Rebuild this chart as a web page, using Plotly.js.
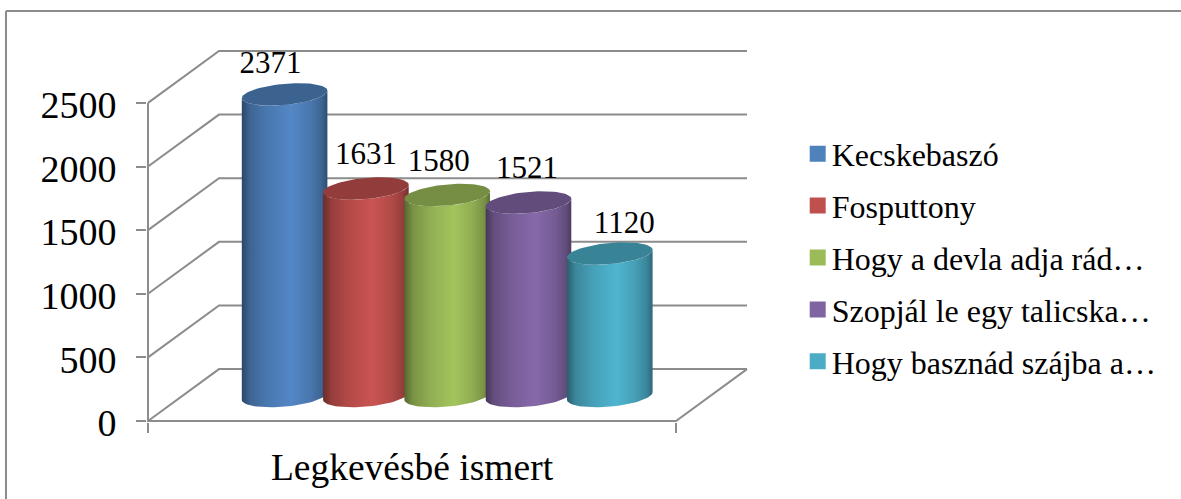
<!DOCTYPE html>
<html>
<head>
<meta charset="utf-8">
<script src="https://cdn.plot.ly/plotly-3.0.1.min.js"></script>
<style>html,body{margin:0;padding:0;background:#fff}</style>
</head>
<body>
<div id="chart" style="width:1181px;height:499px"></div>
<script>
// Survey result: least known expressions, shown as a single category of cylinders.
const categories = ['Legkevésbé ismert'];
const seriesNames = ['Kecskebaszó', 'Fosputtony', 'Hogy a devla adja rád…', 'Szopjál le egy talicska…', 'Hogy basznád szájba a…'];
const seriesValues = [2371, 1631, 1580, 1521, 1120];
const seriesColors = ['#4F81BD', '#C0504D', '#9BBB59', '#8064A2', '#4BACC6'];
const yTicks = [0, 500, 1000, 1500, 2000, 2500];
const yMax = 2500;

// Front face of the box in pixels; the plot area also holds the receding depth.
const W = 1181, H = 499;
const front = {l: 148, r: 676, t: 102.5, b: 421};
const depthPxX = 71, depthPxY = 52;
const pxX = 1 / (front.r - front.l);       // axis units per pixel (front spans 1 unit)
const pxY = yMax / (front.b - front.t);    // axis units per pixel
const box = {l: front.l - 1, r: front.r + depthPxX + 1, t: front.t - depthPxY - 2, b: front.b + 1};
const xRange = [-0.5 - (front.l - box.l) * pxX, 0.5 + (box.r - front.r) * pxX];
const yRange = [-(box.b - front.b) * pxY, yMax + (front.t - box.t) * pxY];

const depthX = depthPxX * pxX, depthY = depthPxY * pxY;
const midX = 35.2 * pxX;
const baseY = 25 * pxY;                    // cylinder floor height at mid depth
const slot = 81.3 * pxX;
const radius = 42.8 * pxX;
const capRy = 10.6 * pxY, capShear = 3.75 * pxY;
const lineGrey = '#8c8c8c';
const serif = '"Liberation Serif", "Times New Roman", serif';

// Value label displacement from the top of each cylinder, in pixels.
const labelShiftX = [-14, 0, -8.5, -1.5, 14.5];
const labelShiftY = [29, 32, 32, 32, 28];

function shade(hex, k) {
  const n = parseInt(hex.slice(1), 16);
  const c = [n >> 16, (n >> 8) & 255, n & 255].map(v => Math.min(255, Math.round(v * k)));
  return `rgb(${c[0]},${c[1]},${c[2]})`;
}
function ellipsePoint(cx, cy, t) {
  return [cx + radius * Math.cos(t), cy + capShear * Math.cos(t) + capRy * Math.sin(t)];
}
function arc(cx, cy, from, to, n) {
  const pts = [];
  for (let i = 0; i <= n; i++) pts.push(ellipsePoint(cx, cy, from + (to - from) * i / n));
  return pts;
}
const centerOf = i => midX + (i - (seriesValues.length - 1) / 2) * slot;

const traces = [];

// Wall and floor rules on the oblique box, plus the two front axis lines.
const wallX = [], wallY = [];
yTicks.forEach(v => {
  wallX.push(-0.5, -0.5 + depthX, 0.5 + depthX, null);
  wallY.push(v, v + depthY, v + depthY, null);
});
wallX.push(0.5 + depthX, 0.5, -0.5, -0.5);
wallY.push(depthY, 0, 0, yMax);
traces.push({x: wallX, y: wallY, mode: 'lines', line: {color: lineGrey, width: 2},
  showlegend: false, hoverinfo: 'skip'});

// Cylinders, painted left to right so that each overlaps the previous one.
seriesValues.forEach((v, i) => {
  const c = seriesColors[i], cx = centerOf(i), top = baseY + v;
  const upper = arc(cx, top, Math.PI, 2 * Math.PI, 40);
  const lower = arc(cx, baseY, 2 * Math.PI, Math.PI, 40);
  const outline = upper.concat(lower);
  traces.push({
    x: outline.map(p => p[0]), y: outline.map(p => p[1]),
    mode: 'lines', fill: 'toself', line: {width: 0},
    fillgradient: {type: 'horizontal', start: cx - radius, stop: cx + radius, colorscale: [
      [0, shade(c, 0.55)], [0.1, shade(c, 0.78)], [0.3, shade(c, 0.93)], [0.58, shade(c, 1.05)],
      [0.8, shade(c, 0.92)], [0.93, shade(c, 0.78)], [1, shade(c, 0.6)]]},
    showlegend: false, hoverinfo: 'skip'
  });
  const cap = arc(cx, top, 0, 2 * Math.PI, 80);
  traces.push({
    x: cap.map(p => p[0]), y: cap.map(p => p[1]),
    mode: 'lines', fill: 'toself', line: {width: 0}, fillcolor: shade(c, 0.76),
    showlegend: false, hoverinfo: 'skip'
  });
});

// Value labels.
traces.push({
  x: seriesValues.map((v, i) => centerOf(i) + labelShiftX[i] * pxX),
  y: seriesValues.map((v, i) => baseY + v + labelShiftY[i] * pxY),
  text: seriesValues.map(String), mode: 'text', textposition: 'middle center',
  textfont: {family: serif, size: 31, color: '#000'},
  cliponaxis: false, showlegend: false, hoverinfo: 'skip'
});

// Legend entries with square swatches.
seriesNames.forEach((name, i) => {
  traces.push({
    x: [null], y: [null], name, legendgroup: 'g' + i, mode: 'markers',
    marker: {symbol: 'square', size: 16, color: seriesColors[i]}
  });
});

const paperX = px => (px - box.l) / (box.r - box.l);
const paperY = px => (box.b - px) / (box.b - box.t);

const layout = {
  width: W, height: H,
  margin: {l: box.l, r: W - box.r, t: box.t, b: H - box.b, pad: 0, autoexpand: false},
  paper_bgcolor: '#fff', plot_bgcolor: 'rgba(0,0,0,0)',
  font: {family: serif, color: '#000'},
  showlegend: true,
  legend: {
    x: paperX(791.7), y: paperY(126), xanchor: 'left', yanchor: 'top',
    traceorder: 'grouped', tracegroupgap: 7.3,
    font: {family: serif, size: 32, color: '#000'}, bgcolor: 'rgba(0,0,0,0)'
  },
  xaxis: {
    type: 'linear', range: xRange, fixedrange: true,
    showgrid: false, zeroline: false, showline: false,
    tickmode: 'array', tickvals: [0], ticktext: categories, ticks: '', ticklabelstandoff: 19,
    tickfont: {family: serif, size: 37.5, color: '#000'},
    minor: {tickmode: 'array', tickvals: [-0.5, 0.5], ticks: 'outside', ticklen: 10, tickwidth: 2, tickcolor: lineGrey}
  },
  yaxis: {
    range: yRange, fixedrange: true,
    showgrid: false, zeroline: false, showline: false,
    tickmode: 'array', tickvals: yTicks, ticks: 'outside', ticklen: 10, tickwidth: 2, tickcolor: lineGrey,
    ticklabelstandoff: 12, ticklabelshift: 2,
    tickfont: {family: serif, size: 38, color: '#000'}
  },
  shapes: [
    // Chart frame; it runs off the right and bottom of the page.
    {type: 'line', xref: 'paper', yref: 'paper', x0: paperX(6), x1: paperX(6), y0: paperY(H), y1: paperY(10.5), line: {color: lineGrey, width: 2}},
    {type: 'line', xref: 'paper', yref: 'paper', x0: paperX(6), x1: paperX(W), y0: paperY(10.5), y1: paperY(10.5), line: {color: lineGrey, width: 2}}
  ]
};

Plotly.newPlot('chart', traces, layout, {displayModeBar: false, staticPlot: true}).then(() => {
  // Tighten the gap between legend swatches and their text.
  document.querySelectorAll('.legend .legendsymbols').forEach(g => g.setAttribute('transform', 'translate(6,0)'));
});
</script>
</body>
</html>
